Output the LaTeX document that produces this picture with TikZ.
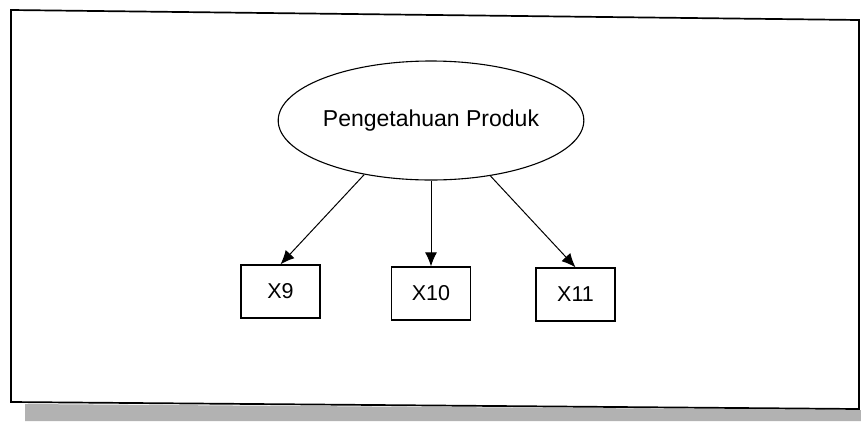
\documentclass[tikz,border=0pt]{standalone}
\usepackage{fontspec}
\setmainfont{Liberation Sans}
\usetikzlibrary{shapes.geometric,arrows.meta}
\tikzset{
  latent/.style={draw,ellipse,line width=1.1pt,minimum width=236pt,minimum height=119pt,inner sep=0pt,font=\fontsize{23}{27}\selectfont},
  indicator/.style={draw,rectangle,line width=1.3pt,minimum width=79pt,minimum height=53pt,inner sep=0pt,font=\fontsize{21.5}{25}\selectfont},
  link/.style={line width=1pt,-{Latex[length=14pt,width=12pt]}},
  frameline/.style={line width=1.7pt}
}
\begin{document}
\begin{tikzpicture}[x=1pt,y=-1pt]
\useasboundingbox (0,0) rectangle (861,421);
% scan band at the bottom
\fill[gray!60] (25,404) -- (861,410) -- (861,421) -- (25,421) -- cycle;
% frame
\draw[frameline] (11,10) -- (859,20) -- (859,409) -- (11,402) -- cycle;
% nodes
\node[latent] (pp) at (431,120.5) {Pengetahuan Produk};
\node[indicator] (x9) at (280.5,291.5) {X9};
\node[indicator] (x10) at (431,293.5) {X10};
\node[indicator] (x11) at (575.5,294.5) {X11};
% connectors
\draw[link] (pp.219) -- (x9.north);
\draw[link] (pp.south) -- (x10.north);
\draw[link] (pp.317) -- (x11.north);
\end{tikzpicture}
\end{document}
